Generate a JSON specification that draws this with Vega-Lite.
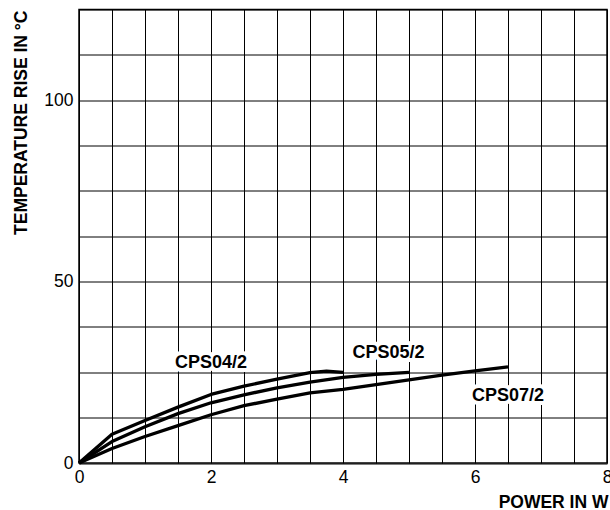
{
  "$schema": "https://vega.github.io/schema/vega-lite/v6.json",
  "width": 528,
  "height": 453.5,
  "autosize": {"type": "none"},
  "padding": {"left": 79, "top": 9.5, "right": 3, "bottom": 47},
  "config": {
    "font": "Liberation Sans",
    "view": {"stroke": "black", "strokeWidth": 1.5},
    "axis": {
      "grid": true, "gridColor": "black", "gridWidth": 1, "gridOpacity": 1,
      "domain": false, "ticks": false, "labelOverlap": false,
      "labelFont": "Liberation Sans", "labelFontSize": 17.5, "labelColor": "black",
      "titleFont": "Liberation Sans", "titleFontSize": 17.5, "titleFontWeight": "bold", "titleColor": "black"
    }
  },
  "datasets": {
    "curves": [
      {"series": "CPS04/2", "power": 0, "rise": 0},
      {"series": "CPS04/2", "power": 0.5, "rise": 7.9},
      {"series": "CPS04/2", "power": 1, "rise": 11.7},
      {"series": "CPS04/2", "power": 1.5, "rise": 15.4},
      {"series": "CPS04/2", "power": 2, "rise": 18.9},
      {"series": "CPS04/2", "power": 2.5, "rise": 21.2},
      {"series": "CPS04/2", "power": 3, "rise": 23.1},
      {"series": "CPS04/2", "power": 3.5, "rise": 24.9},
      {"series": "CPS04/2", "power": 3.75, "rise": 25.3},
      {"series": "CPS04/2", "power": 4, "rise": 25.0},
      {"series": "CPS05/2", "power": 0, "rise": 0},
      {"series": "CPS05/2", "power": 0.5, "rise": 5.9},
      {"series": "CPS05/2", "power": 1, "rise": 10.0},
      {"series": "CPS05/2", "power": 1.5, "rise": 13.6},
      {"series": "CPS05/2", "power": 2, "rise": 16.6},
      {"series": "CPS05/2", "power": 2.5, "rise": 18.8},
      {"series": "CPS05/2", "power": 3, "rise": 20.7},
      {"series": "CPS05/2", "power": 3.5, "rise": 22.3},
      {"series": "CPS05/2", "power": 4, "rise": 23.6},
      {"series": "CPS05/2", "power": 4.5, "rise": 24.4},
      {"series": "CPS05/2", "power": 5, "rise": 25.0},
      {"series": "CPS07/2", "power": 0, "rise": 0},
      {"series": "CPS07/2", "power": 0.5, "rise": 4.0},
      {"series": "CPS07/2", "power": 1, "rise": 7.3},
      {"series": "CPS07/2", "power": 1.5, "rise": 10.3},
      {"series": "CPS07/2", "power": 2, "rise": 13.3},
      {"series": "CPS07/2", "power": 2.5, "rise": 15.8},
      {"series": "CPS07/2", "power": 3, "rise": 17.6},
      {"series": "CPS07/2", "power": 3.5, "rise": 19.3},
      {"series": "CPS07/2", "power": 4, "rise": 20.3},
      {"series": "CPS07/2", "power": 4.5, "rise": 21.6},
      {"series": "CPS07/2", "power": 5, "rise": 22.9},
      {"series": "CPS07/2", "power": 5.5, "rise": 24.2},
      {"series": "CPS07/2", "power": 6, "rise": 25.4},
      {"series": "CPS07/2", "power": 6.5, "rise": 26.5}
    ],
    "labels": [
      {"label": "CPS04/2", "power": 2.0, "rise": 27.5},
      {"label": "CPS05/2", "power": 4.69, "rise": 30.4},
      {"label": "CPS07/2", "power": 6.5, "rise": 18.5}
    ]
  },
  "encoding": {
    "x": {
      "field": "power", "type": "quantitative",
      "scale": {"domain": [0, 8], "nice": false},
      "axis": {
        "values": [0, 0.5, 1, 1.5, 2, 2.5, 3, 3.5, 4, 4.5, 5, 5.5, 6, 6.5, 7, 7.5, 8],
        "format": ".1~f",
        "labelExpr": "datum.value % 2 === 0 ? datum.label : ''",
        "labelPadding": 5, "labelFlush": false,
        "title": "POWER IN W", "titleAnchor": null,
        "titleX": 529, "titleY": 44, "titleAlign": "right", "titleBaseline": "alphabetic"
      }
    },
    "y": {
      "field": "rise", "type": "quantitative",
      "scale": {"domain": [0, 125], "nice": false},
      "axis": {
        "values": [0, 12.5, 25, 37.5, 50, 62.5, 75, 87.5, 100, 112.5, 125],
        "format": ".1~f",
        "labelExpr": "datum.value % 50 === 0 ? datum.label : ''",
        "labelPadding": 6, "labelFlush": false,
        "title": "TEMPERATURE RISE IN °C",
        "titleAngle": 270, "titleX": -53, "titleY": 0.5,
        "titleAlign": "right", "titleBaseline": "alphabetic"
      }
    }
  },
  "layer": [
    {
      "data": {"name": "curves"},
      "mark": {"type": "line", "color": "black", "strokeWidth": 3.3, "strokeJoin": "round"},
      "encoding": {"detail": {"field": "series"}}
    },
    {
      "data": {"name": "labels"},
      "mark": {"type": "text", "fontSize": 18, "fontWeight": "bold", "color": "white", "stroke": "white", "strokeWidth": 8, "strokeJoin": "round", "baseline": "middle", "align": "center"},
      "encoding": {"text": {"field": "label"}}
    },
    {
      "data": {"name": "labels"},
      "mark": {"type": "text", "fontSize": 18, "fontWeight": "bold", "color": "black", "baseline": "middle", "align": "center"},
      "encoding": {"text": {"field": "label"}}
    }
  ]
}
